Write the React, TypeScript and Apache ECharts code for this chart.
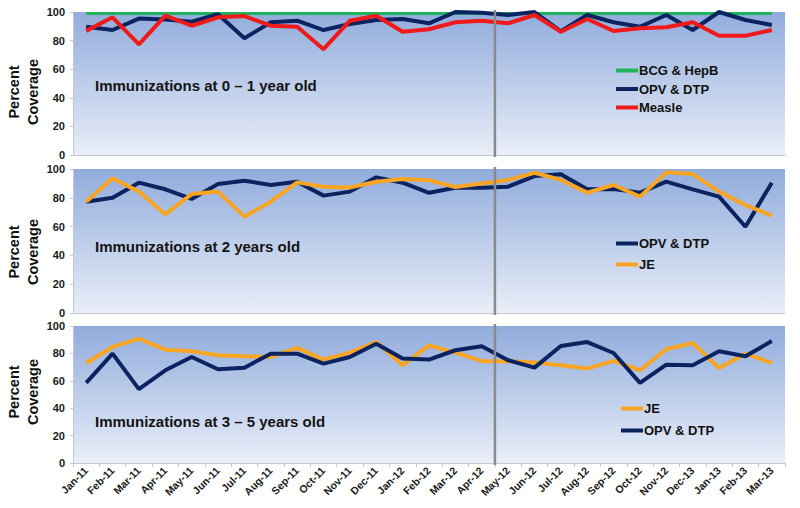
import React, { useEffect, useRef } from "react";
import * as echarts from "echarts";

const months = [
  "Jan-11", "Feb-11", "Mar-11", "Apr-11", "May-11", "Jun-11", "Jul-11", "Aug-11", "Sep-11",
  "Oct-11", "Nov-11", "Dec-11", "Jan-12", "Feb-12", "Mar-12", "Apr-12", "May-12", "Jun-12",
  "Jul-12", "Aug-12", "Sep-12", "Oct-12", "Nov-12", "Dec-13", "Jan-13", "Feb-13", "Mar-13",
];
const yTicks = [0, 20, 40, 60, 80, 100];
const dividerBefore = "May-12";
const yAxisTitle = "Percent\nCoverage";

// Panel 1: 0-1 year old
const bcgHepB = [99, 99, 99, 99, 99, 99, 99, 99, 99, 99, 99, 99, 99, 99, 99, 99, 99, 99, 99, 99, 99, 99, 99, 99, 99, 99, 99];
const opvDtp1 = [89.7, 87.4, 95.4, 94.8, 93.2, 98.4, 81.6, 92.8, 93.9, 87.4, 91.6, 94.4, 95.1, 92.1, 100, 99.5, 97.9, 100, 86.5, 97.9, 92.8, 89.7, 97.9, 87.4, 100, 94.4, 90.9];
const measle = [86.8, 96.3, 77.4, 97.4, 90.4, 96.3, 97.2, 90.4, 89.7, 74, 93.9, 97.4, 86.2, 87.9, 92.8, 93.9, 92.1, 97.9, 86.2, 95.1, 86.7, 88.6, 89.3, 92.8, 83.4, 83.4, 87.4];

// Panel 2: 2 years old
const opvDtp2 = [77.3, 80.1, 90.5, 85.9, 79.2, 89.6, 91.9, 88.9, 91.2, 81.5, 84.3, 94.2, 90.5, 83.5, 87, 87, 87.7, 95.1, 96.3, 85.9, 86.1, 83.6, 91.2, 85.9, 80.8, 59.9, 90.5];
const je2 = [77.3, 93.5, 84.3, 68.5, 82.6, 84.3, 66.9, 77.3, 90.7, 87.7, 87.2, 91.2, 93, 92.2, 87.5, 90, 92.4, 97.4, 92.4, 83.6, 88.9, 80.8, 97.7, 96.5, 84.3, 75, 67.6];

// Panel 3: 3-5 years old
const je3 = [73, 84.7, 90.8, 82.7, 81.6, 78.6, 77.9, 77.4, 84, 75.5, 80.6, 88.3, 71.4, 85.9, 80.6, 74.3, 74.3, 73.3, 71.4, 68.9, 74.5, 67.7, 83, 87.6, 69.4, 79.8, 73];
const opvDtp3 = [58.5, 79.8, 53.9, 67.7, 77.4, 68.4, 69.6, 79.8, 79.8, 72.5, 77.4, 87.1, 76.2, 75.5, 82.3, 85.2, 75, 69.6, 85.4, 88.3, 80.3, 58.5, 71.8, 71.4, 81.6, 77.9, 89];

const titles = [
  "Immunizations at 0 – 1 year old",
  "Immunizations at 2 years old",
  "Immunizations at 3 – 5 years old",
];

const NAVY = "#0b2461";
const RED = "#f01a1a";
const GREEN = "#1fb45a";
const ORANGE = "#f8a524";
const FONT = "'Liberation Sans', Arial, Helvetica, sans-serif";

export default function App() {
  const ref = useRef<HTMLDivElement>(null);
  useEffect(() => {
    if (!ref.current) return;
    const chart = echarts.init(ref.current, undefined, { renderer: "svg" });
    const grids = [
      { top: 12, height: 143 },
      { top: 169, height: 144 },
      { top: 326, height: 137 },
    ];
    const bg = () =>
      new echarts.graphic.LinearGradient(0, 0, 0, 1, [
        { offset: 0, color: "#91acdc" },
        { offset: 1, color: "#e9eef8" },
      ]);
    const grid = grids.map((g) => ({
      left: 73,
      right: 15,
      top: g.top,
      height: g.height,
      show: true,
      borderWidth: 0,
      backgroundColor: bg(),
    }));
    const xAxis = grids.map((_, i) => ({
      type: "category",
      gridIndex: i,
      data: months,
      boundaryGap: true,
      axisLine: { show: true, lineStyle: { color: "#c4c8d0", width: 1 } },
      axisTick: { show: i === 2, length: 4, lineStyle: { color: "#c4c8d0" } },
      axisLabel: {
        show: i === 2,
        rotate: 45,
        interval: 0,
        margin: 6,
        fontSize: 10.5,
        fontWeight: "bold",
        color: "#1a1a1a",
        fontFamily: FONT,
      },
    }));
    const yAxis = grids.map((_, i) => ({
      type: "value",
      gridIndex: i,
      min: yTicks[0],
      max: yTicks[yTicks.length - 1],
      interval: 20,
      axisLine: { show: true, lineStyle: { color: "#c4c8d0", width: 1 } },
      axisTick: { show: true, length: 3, lineStyle: { color: "#c4c8d0" } },
      splitLine: { show: false },
      axisLabel: {
        fontSize: 11,
        fontWeight: "bold",
        color: "#1a1a1a",
        fontFamily: FONT,
        margin: 8,
      },
    }));
    const mk = (name: string, data: number[], color: string, idx: number, width = 4) => ({
      type: "line",
      name,
      data,
      xAxisIndex: idx,
      yAxisIndex: idx,
      symbol: "none",
      showSymbol: false,
      lineStyle: { color, width },
      itemStyle: { color },
    });
    const series = [
      mk("BCG & HepB", bcgHepB, GREEN, 0, 3),
      mk("OPV & DTP", opvDtp1, NAVY, 0),
      mk("Measle", measle, RED, 0),
      mk("OPV & DTP", opvDtp2, NAVY, 1),
      mk("JE", je2, ORANGE, 1),
      mk("JE", je3, ORANGE, 2),
      mk("OPV & DTP", opvDtp3, NAVY, 2),
    ];
    const legendBase = {
      orient: "vertical",
      icon: "rect",
      itemWidth: 22,
      itemHeight: 4,
      selectedMode: false,
      textStyle: { fontSize: 13, fontWeight: "bold", color: "#111", fontFamily: FONT, padding: [0, 0, 0, -4] },
    };
    const legend = [
      { ...legendBase, left: 611, top: 59, itemGap: 5.5, data: ["BCG & HepB", "OPV & DTP", "Measle"] },
      { ...legendBase, left: 611, top: 232, itemGap: 8, data: ["OPV & DTP", "JE"] },
      { ...legendBase, left: 616, top: 397, itemGap: 9, data: ["JE", "OPV & DTP"] },
    ];
    const titleY = [87, 248, 423];
    const titleGraphics = titles.map((t, i) => ({
      type: "text",
      left: 95,
      top: titleY[i] - 9,
      style: { text: t, fontSize: 15, fontWeight: "bold", fill: "#141414", fontFamily: FONT },
    }));
    const nameY = [92, 252, 392];
    const nameGraphics = nameY.map((cy) => ({
      type: "text",
      x: 23,
      y: cy,
      rotation: Math.PI / 2,
      silent: true,
      style: {
        text: yAxisTitle,
        fontSize: 14.5,
        lineHeight: 19,
        fontWeight: "bold",
        fill: "#111",
        fontFamily: FONT,
        align: "center",
        verticalAlign: "middle",
      },
    }));
    chart.setOption({
      animation: false,
      grid,
      xAxis,
      yAxis,
      series,
      legend,
      graphic: [...titleGraphics, ...nameGraphics],
    });
    // divider between Apr-12 and May-12 in each panel, from the axes' own scales
    const idx = months.indexOf(dividerBefore);
    const lines = grids.map((_, i) => {
      const a = chart.convertToPixel({ xAxisIndex: i, yAxisIndex: i }, [idx - 1, yTicks[yTicks.length - 1]]) as number[];
      const b = chart.convertToPixel({ xAxisIndex: i, yAxisIndex: i }, [idx, yTicks[0]]) as number[];
      const x = (a[0] + b[0]) / 2;
      return {
        type: "line",
        silent: true,
        z: 10,
        shape: { x1: x, y1: a[1] - 2, x2: x, y2: b[1] + 2 },
        style: { stroke: "#8a8a8a", lineWidth: 2.5 },
      };
    });
    chart.setOption({ graphic: [...titleGraphics, ...nameGraphics, ...lines] });
    return () => chart.dispose();
  }, []);
  return <div ref={ref} style={{ width: 800, height: 508, position: "absolute", left: 0, top: 0, background: "#fff" }} />;
}
